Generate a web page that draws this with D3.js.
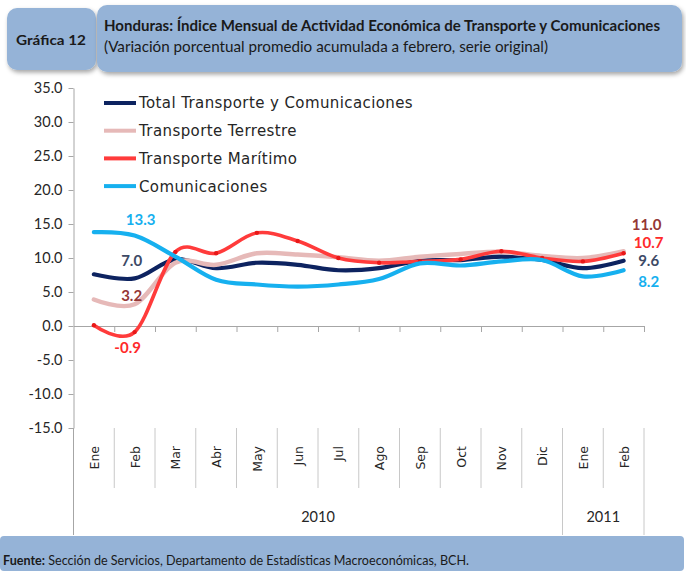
<!DOCTYPE html>
<html>
<head>
<meta charset="utf-8">
<script src="https://cdn.jsdelivr.net/npm/d3@7"></script>
<style>
  body { margin: 0; background: #fff; }
  svg { display: block; }
</style>
</head>
<body>
<div id="chart"></div>
<script>
// data
var months = ["Ene","Feb","Mar","Abr","May","Jun","Jul","Ago","Sep","Oct","Nov","Dic","Ene","Feb"];
var years = [["2010", 0, 12], ["2011", 12, 14]];
var total = [7.6, 7.0, 9.8, 8.5, 9.3, 9.0, 8.2, 8.5, 9.6, 9.7, 10.2, 9.7, 8.5, 9.6];
var terrestre = [3.9, 3.2, 9.3, 9.0, 10.7, 10.5, 10.1, 9.6, 10.2, 10.6, 10.9, 10.3, 10.0, 11.0];
var maritimo = [0.1, -0.9, 10.9, 10.7, 13.7, 12.5, 10.0, 9.3, 9.5, 9.8, 11.0, 10.0, 9.5, 10.7];
var comunicaciones = [13.8, 13.3, 10.2, 6.8, 6.1, 5.8, 6.1, 6.9, 9.2, 8.9, 9.5, 9.7, 7.3, 8.2];
var yTicks = [-15, -10, -5, 0, 5, 10, 15, 20, 25, 30, 35];

var series = [
  {name: "Total Transporte y Comunicaciones", values: total, color: "#0d2360", width: 4.2},
  {name: "Transporte Terrestre", values: terrestre, color: "#e6b9b8", width: 4.5},
  {name: "Transporte Marítimo", values: maritimo, color: "#ff3b3b", width: 3.6, dots: true},
  {name: "Comunicaciones", values: comunicaciones, color: "#16b0ef", width: 4.2}
];
// data labels: [series index, point index, text colour, dx, dy]
var labels = [
  [3, 1, "#16b0ef", 6, -16],
  [0, 1, "#3d4a66", -3, -18],
  [1, 1, "#953735", -3, -8],
  [2, 1, "#ff2a2a", -7, 16],
  [1, 13, "#953735", 23, -26],
  [2, 13, "#ff2a2a", 25, -10],
  [0, 13, "#3d4a66", 25, 0],
  [3, 13, "#16b0ef", 25, 12]
];

var W = 686, H = 571;
var plotLeft = 73.5, plotRight = 644, plotTop = 88, plotBottom = 428;

// plain hyphen for negatives, as in the original
var fmt = d3.formatLocale({decimal: ".", thousands: ",", grouping: [3], currency: ["", ""], minus: "-"}).format(".1f");

var svg = d3.select("#chart").append("svg")
    .attr("width", W)
    .attr("height", H);

var defs = svg.append("defs");
var f = defs.append("filter").attr("id", "shadow")
    .attr("x", "-10%").attr("y", "-10%").attr("width", "130%").attr("height", "140%");
f.append("feDropShadow").attr("dx", 1.5).attr("dy", 2.5).attr("stdDeviation", 2)
    .attr("flood-color", "#000").attr("flood-opacity", 0.35);

var calibri = "Lato, 'Liberation Sans', Arial, sans-serif";
var verdana = "'DejaVu Sans', Verdana, sans-serif";

// header boxes
svg.append("rect").attr("x", 7).attr("y", 8).attr("width", 89).attr("height", 62)
    .attr("rx", 10).attr("fill", "#95b3d7").attr("filter", "url(#shadow)");
svg.append("rect").attr("x", 97).attr("y", 5).attr("width", 585).attr("height", 67)
    .attr("rx", 10).attr("fill", "#95b3d7").attr("filter", "url(#shadow)");
svg.append("text").attr("x", 51).attr("y", 45).attr("text-anchor", "middle")
    .attr("font-family", calibri).attr("font-weight", "bold").attr("font-size", 14)
    .attr("textLength", 70).attr("lengthAdjust", "spacingAndGlyphs")
    .attr("fill", "#1a1a1a").text("Gráfica 12");
svg.append("text").attr("x", 104).attr("y", 31)
    .attr("font-family", calibri).attr("font-weight", "bold").attr("font-size", 15)
    .attr("textLength", 556).attr("lengthAdjust", "spacingAndGlyphs")
    .attr("fill", "#1a1a1a")
    .text("Honduras: Índice Mensual de Actividad Económica de Transporte y Comunicaciones");
svg.append("text").attr("x", 104).attr("y", 52)
    .attr("font-family", calibri).attr("font-size", 15)
    .attr("textLength", 444).attr("lengthAdjust", "spacingAndGlyphs")
    .attr("fill", "#1a1a1a")
    .text("(Variación porcentual promedio acumulada a febrero, serie original)");

// scales
var y = d3.scaleLinear().domain([-15, 35]).range([plotBottom, plotTop]);
var xEdge = d3.scaleLinear().domain([0, months.length]).range([plotLeft, plotRight]);
var xc = function(i) { return xEdge(i + 0.5); };

// y axis
var gy = svg.append("g")
    .attr("transform", "translate(" + plotLeft + ",0)")
    .call(d3.axisLeft(y).tickValues(yTicks).tickFormat(fmt).tickSize(5).tickSizeOuter(0));
gy.select(".domain").attr("stroke", "#a6a6a6");
gy.selectAll(".tick line").attr("stroke", "#a6a6a6");
gy.selectAll(".tick text").attr("font-family", calibri).attr("font-size", 14.5)
    .attr("fill", "#262626").attr("x", -11);

// category axis crossing at zero
var gx = svg.append("g")
    .attr("transform", "translate(0," + y(0) + ")")
    .call(d3.axisBottom(xEdge).tickValues(d3.range(1, months.length + 1)).tickFormat("").tickSize(6).tickSizeOuter(0));
gx.select(".domain").attr("stroke", "#a6a6a6");
gx.selectAll(".tick line").attr("stroke", "#a6a6a6");

// bottom category labels with separators
var sep = svg.append("g").attr("stroke-width", 1);
d3.range(0, months.length + 1).forEach(function(i) {
  var long = (i === 0 || i === 12 || i === months.length);
  sep.append("line")
      .attr("x1", xEdge(i)).attr("x2", xEdge(i))
      .attr("y1", plotBottom).attr("y2", long ? 535 : 488)
      .attr("stroke", i === 0 ? "#a6a6a6" : "#c8c8c8");
});
svg.append("g").selectAll("text").data(months).join("text")
    .attr("transform", function(d, i) { return "translate(" + (xc(i) + 5) + ",446) rotate(-90)"; })
    .attr("text-anchor", "end")
    .attr("font-family", verdana).attr("font-size", 12.5)
    .attr("fill", "#262626")
    .text(function(d) { return d; });
svg.append("g").selectAll("text").data(years).join("text")
    .attr("x", function(d) { return (xEdge(d[1]) + xEdge(d[2])) / 2; })
    .attr("y", 522)
    .attr("text-anchor", "middle")
    .attr("font-family", calibri).attr("font-size", 14.5)
    .attr("fill", "#262626")
    .text(function(d) { return d[0]; });

// lines (Excel-style smoothing)
var line = d3.line()
    .curve(d3.curveCatmullRom.alpha(0))
    .x(function(d, i) { return xc(i); })
    .y(function(d) { return y(d); });

series.forEach(function(s) {
  svg.append("path")
      .datum(s.values)
      .attr("fill", "none")
      .attr("stroke", s.color)
      .attr("stroke-width", s.width)
      .attr("stroke-linejoin", "round")
      .attr("stroke-linecap", "round")
      .attr("d", line);
  if (s.dots) {
    svg.append("g").selectAll("circle").data(s.values).join("circle")
        .attr("cx", function(d, i) { return xc(i); })
        .attr("cy", function(d) { return y(d); })
        .attr("r", 2.2)
        .attr("fill", "#e81818");
  }
});

// data labels
labels.forEach(function(l) {
  var v = series[l[0]].values[l[1]];
  svg.append("text")
      .attr("x", xc(l[1]) + l[3])
      .attr("y", y(v) + l[4])
      .attr("text-anchor", "middle")
      .attr("dy", "0.35em")
      .attr("font-family", calibri).attr("font-weight", "bold").attr("font-size", 15)
      .attr("fill", l[2])
      .text(fmt(v));
});

// legend
var legend = svg.append("g").attr("transform", "translate(104,103)");
series.forEach(function(s, i) {
  var g = legend.append("g").attr("transform", "translate(0," + (i * 27.7) + ")");
  g.append("line").attr("x1", 0).attr("x2", 32).attr("y1", 0).attr("y2", 0)
      .attr("stroke", s.color).attr("stroke-width", 4);
  g.append("text").attr("x", 35).attr("y", 0).attr("dy", "0.36em")
      .attr("font-family", verdana).attr("font-size", 15)
      .attr("letter-spacing", 0.4)
      .attr("fill", "#262626")
      .text(s.name);
});

// footer band
svg.append("rect").attr("x", 0).attr("y", 536).attr("width", 684).attr("height", 35)
    .attr("rx", 4).attr("fill", "#95b3d7");
var foot = svg.append("text").attr("x", 3).attr("y", 565)
    .attr("font-family", calibri).attr("font-size", 12.5).attr("fill", "#1a1a1a")
    .attr("textLength", 466).attr("lengthAdjust", "spacingAndGlyphs");
foot.append("tspan").attr("font-weight", "bold").text("Fuente:");
foot.append("tspan").text(" Sección de Servicios, Departamento de Estadísticas Macroeconómicas, BCH.");
</script>
</body>
</html>
